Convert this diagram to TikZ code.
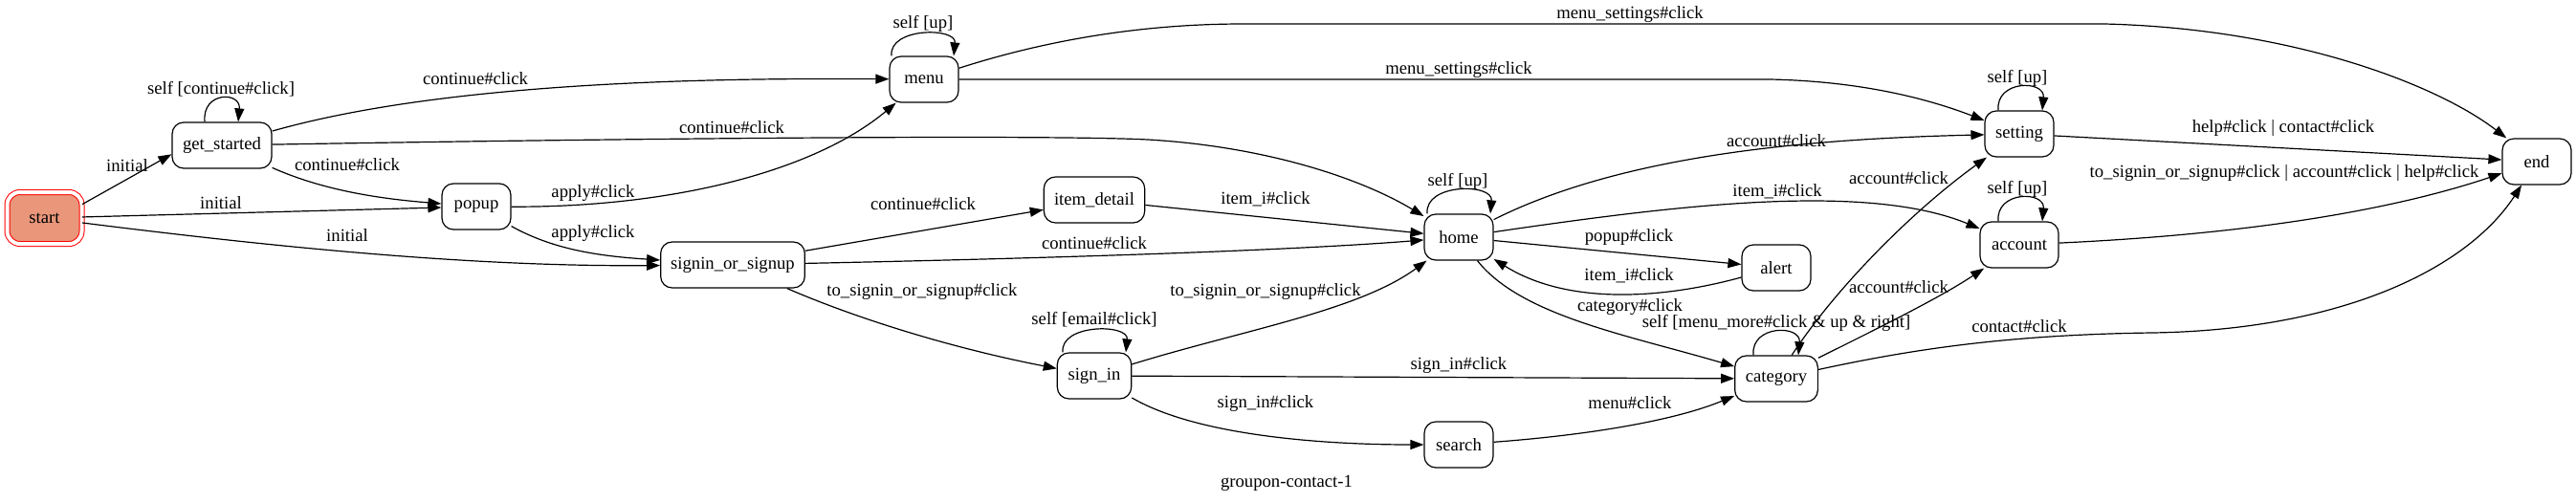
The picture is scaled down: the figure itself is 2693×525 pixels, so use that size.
\documentclass[tikz,border=0pt]{standalone}
\usepackage{fontspec}
\setmainfont{Liberation Serif}
\usetikzlibrary{arrows.meta,calc}
\definecolor{salmonfill}{RGB}{233,150,122}
\begin{document}
\begin{tikzpicture}[x=0.75pt,y=-0.75pt,
  every node/.style={font=\fontsize{14}{16}\selectfont},
  st/.style={draw, rounded corners=9pt, minimum height=36pt, inner sep=0pt, line width=0.9pt},
  startst/.style={draw=red, fill=salmonfill, double=white, double distance=3pt, line width=0.75pt, rounded corners=10pt, minimum width=58.5pt, minimum height=40.5pt, inner sep=0pt},
  lbl/.style={inner sep=0pt},
  arr/.style={-{Triangle[length=10.5pt,width=7.5pt]}, line width=0.9pt}]
\useasboundingbox (0,0) rectangle (2693,525);

% states
\node[startst] (start) at (46.5,228) {start};
\node[st, minimum width=78pt] (gs) at (232,152) {get\_started};
\node[st, minimum width=54pt] (popup) at (498,216) {popup};
\node[st, minimum width=54pt] (menu) at (966,83) {menu};
\node[st, minimum width=79pt] (item) at (1144,209) {item\_detail};
\node[st, minimum width=113pt] (sos) at (766,277) {signin\_or\_signup};
\node[st, minimum width=58pt] (signin) at (1144,393) {sign\_in};
\node[st, minimum width=54pt] (home) at (1525,248) {home};
\node[st, minimum width=54pt] (search) at (1525,465) {search};
\node[st, minimum width=54pt] (alert) at (1857,280) {alert};
\node[st, minimum width=65pt] (cat) at (1857,396) {category};
\node[st, minimum width=54pt] (setting) at (2111,140) {setting};
\node[st, minimum width=61.5pt] (account) at (2111,256) {account};
\node[st, minimum width=54pt] (endn) at (2652,169) {end};

% edges from start
\draw[arr] (start.20) -- (gs.190);
\draw[arr] (start) -- (popup);
\draw[arr] (start) .. controls (300,260) and (500,279) .. (sos);

% get_started
\draw[arr] ($(gs.north)+(-18,0)$) .. controls +(-3,-32) and +(3,-32) .. ($(gs.north)+(17,0)$);
\draw[arr] (gs) .. controls (450,90) and (700,81) .. (menu);
\draw[arr] (gs) .. controls (700,144) and (1100,141) .. (1200,146) .. controls (1320,153) and (1420,185) .. (home);
\draw[arr] (gs) .. controls (340,200) and (400,208) .. (popup);

% popup
\draw[arr] (popup) .. controls (700,217) and (850,180) .. (menu);
\draw[arr] (popup) .. controls (580,262) and (630,268) .. (sos);

% menu
\draw[arr] ($(menu.north)+(-34,0)$) .. controls +(-3,-30) and +(3,-30) .. ($(menu.north)+(31,0)$);
\draw[arr] (menu) .. controls (1100,40) and (1200,25) .. (1300,25) -- (2200,25) .. controls (2400,30) and (2550,90) .. (endn);
\draw[arr] (menu) -- (1850,83) .. controls (1950,85) and (2020,105) .. (setting);

% signin_or_signup
\draw[arr] (sos.11) -- (item.191);
\draw[arr] (sos) .. controls (1100,270) and (1350,262) .. (home);
\draw[arr] (sos) .. controls (900,335) and (1000,365) .. (signin);

% item_detail
\draw[arr] (item) -- (home);

% sign_in
\draw[arr] ($(signin.north)+(-33,0)$) .. controls +(-3,-30) and +(3,-30) .. ($(signin.north)+(33,0)$);
\draw[arr] (signin) .. controls (1300,345) and (1420,325) .. (home);
\draw[arr] (signin) -- (cat);
\draw[arr] (signin) .. controls (1250,455) and (1380,465) .. (search);

% search
\draw[arr] (search) .. controls (1660,455) and (1750,440) .. (cat);

% home
\draw[arr] ($(home.north)+(-33,0)$) .. controls +(-3,-32) and +(3,-32) .. ($(home.north)+(33,0)$);
\draw[arr] (home) .. controls (1700,160) and (1900,145) .. (setting);
\draw[arr] (home) .. controls (1750,215) and (1950,190) .. (account);
\draw[arr] (home) -- (alert);
\draw[arr] (home) .. controls (1590,330) and (1700,350) .. (cat);

% alert
\draw[arr] (alert) .. controls (1740,312) and (1640,320) .. (home);

% category
\draw[arr] ($(cat.north)+(-24,0)$) .. controls +(-3,-32) and +(3,-32) .. ($(cat.north)+(23,0)$);
\draw[arr] (cat) .. controls (1920,300) and (2000,220) .. (setting);
\draw[arr] (cat) .. controls (1970,340) and (2030,310) .. (account);
\draw[arr] (cat) .. controls (2000,365) and (2100,350) .. (2250,348) .. controls (2450,345) and (2580,280) .. (endn);

% setting / account
\draw[arr] ($(setting.north)+(-22,0)$) .. controls +(-3,-32) and +(3,-32) .. ($(setting.north)+(24,0)$);
\draw[arr] ($(account.north)+(-22,0)$) .. controls +(-3,-32) and +(3,-32) .. ($(account.north)+(24,0)$);
\draw[arr] (setting) -- (endn);
\draw[arr] (account) .. controls (2350,245) and (2500,220) .. (endn);

% labels
\node[lbl] (l1) at (133,173) {initial};
\node[lbl] (l2) at (231,212) {initial};
\node[lbl] (l3) at (363,246) {initial};
\node[lbl] (l4) at (231,93) {self [continue\#click]};
\node[lbl] (l5) at (497,82) {continue\#click};
\node[lbl] (l6) at (765,133) {continue\#click};
\node[lbl] (l7) at (363,172) {continue\#click};
\node[lbl] (l8) at (620,202) {apply\#click};
\node[lbl] (l9) at (620,244) {apply\#click};
\node[lbl] (l10) at (965,25) {self [up]};
\node[lbl] (l11) at (1704,15) {menu\_settings\#click};
\node[lbl] (l12) at (1525,73) {menu\_settings\#click};
\node[lbl] (l13) at (965,213) {continue\#click};
\node[lbl] (l14) at (1144,254) {continue\#click};
\node[lbl] (l15) at (1323,208) {item\_i\#click};
\node[lbl] (l16) at (964,305) {to\_signin\_or\_signup\#click};
\node[lbl] (l17) at (1144,334) {self [email\#click]};
\node[lbl] (l18) at (1323,305) {to\_signin\_or\_signup\#click};
\node[lbl] (l19) at (1525,382) {sign\_in\#click};
\node[lbl] (l20) at (1323,422) {sign\_in\#click};
\node[lbl] (l21) at (1704,421) {menu\#click};
\node[lbl] (l22) at (1524,190) {self [up]};
\node[lbl] (l23) at (1857,147) {account\#click};
\node[lbl] (l24) at (1858,200) {item\_i\#click};
\node[lbl] (l25) at (1703,248) {popup\#click};
\node[lbl] (l26) at (1703,288) {item\_i\#click};
\node[lbl] (l27) at (1704,321) {category\#click};
\node[lbl] (l28) at (1857,338) {self [menu\_more\#click \& up \& right]};
\node[lbl] (l29) at (1985,186) {account\#click};
\node[lbl] (l30) at (1985,300) {account\#click};
\node[lbl] (l31) at (2111,341) {contact\#click};
\node[lbl] (l32) at (2109,82) {self [up]};
\node[lbl] (l33) at (2109,198) {self [up]};
\node[lbl] (l34) at (2387,134) {help\#click | contact\#click};
\node[lbl] (l35) at (2388,181) {to\_signin\_or\_signup\#click | account\#click | help\#click};
\node[lbl] (title) at (1345,505) {groupon-contact-1};
\end{tikzpicture}
\end{document}
